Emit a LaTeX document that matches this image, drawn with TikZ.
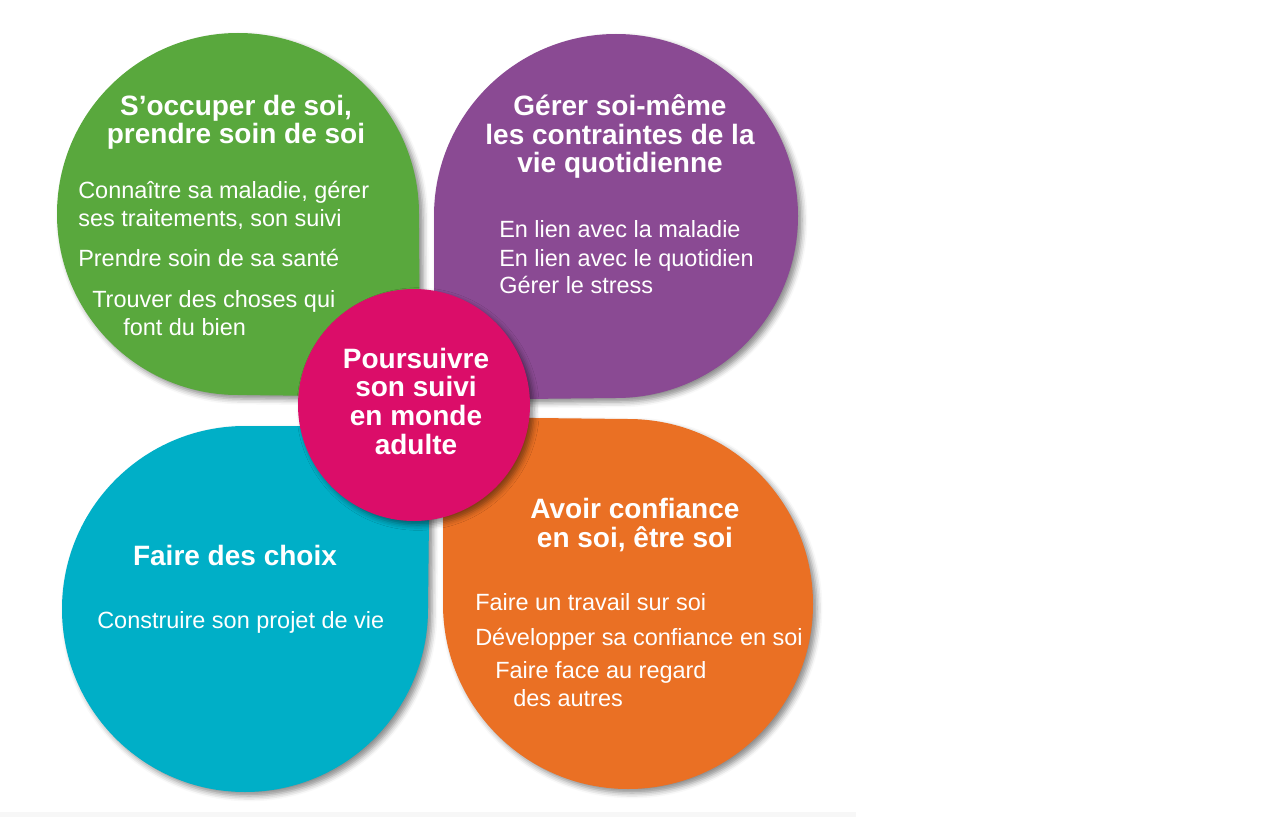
\documentclass[tikz,border=0pt]{standalone}
\usepackage{fontspec}
\setmainfont{Liberation Sans}
\usetikzlibrary{shadows.blur}

\definecolor{soingreen}{HTML}{59A83D}
\definecolor{gererpurple}{HTML}{8A4A93}
\definecolor{choixteal}{HTML}{00AFC7}
\definecolor{confiorange}{HTML}{EA7024}
\definecolor{suivipink}{HTML}{DB0D69}

\begin{document}
\begin{tikzpicture}[x=0.75pt,y=-0.75pt,
    shade/.style={blur shadow={shadow xshift=3pt,shadow yshift=-3pt,shadow blur radius=4pt,shadow opacity=45}},
    title/.style={text=white,font=\bfseries\fontsize{21}{21}\selectfont,anchor=base},
    item/.style={text=white,font=\fontsize{17.6}{21}\selectfont,anchor=base west,inner sep=0pt}]
    \useasboundingbox (0,0) rectangle (1285,817);
    \fill[gray!6] (0,812) rectangle (856,817);
    % four petals, corner towards the middle
    \fill[soingreen,shade] (419,214) arc[start angle=0,end angle=-270,radius=181] -- (420,397) -- cycle;
    \fill[gererpurple,shade] (616,398) arc[start angle=90,end angle=-180,radius=182] -- (434,400) -- cycle;
    \fill[choixteal,shade] (245,426) arc[start angle=-90,end angle=-360,radius=183] -- (430,426) -- cycle;
    \fill[confiorange,shade] (443,604) arc[start angle=180,end angle=-90,radius=185] -- (443,417) -- cycle;
    % middle
    \fill[suivipink,shade] (414,405) circle[radius=116];
    \node[text=white,font=\bfseries\fontsize{21}{21.5}\selectfont,align=center] (suivi) at (416,401)
        {Poursuivre\\son suivi\\en monde\\adulte};

    % green
    \node[title] (soin1) at (236,115) {S’occuper de soi,};
    \node[title] (soin2) at (236,143) {prendre soin de soi};
    \node[item] (soinA) at (78,198) {Connaître sa maladie, gérer};
    \node[item] (soinB) at (78,226) {ses traitements, son suivi};
    \node[item] (soinC) at (78,266) {Prendre soin de sa santé};
    \node[item] (soinD) at (92,307) {Trouver des choses qui};
    \node[item] (soinE) at (123,335) {font du bien};

    % purple
    \node[title] (gerer1) at (620,115) {Gérer soi-même};
    \node[title] (gerer2) at (620,144) {les contraintes de la};
    \node[title] (gerer3) at (620,172) {vie quotidienne};
    \node[item] (gererA) at (499,237) {En lien avec la maladie};
    \node[item] (gererB) at (499,266) {En lien avec le quotidien};
    \node[item] (gererC) at (499,293) {Gérer le stress};

    % teal
    \node[title] (choix1) at (235,565) {Faire des choix};
    \node[item] (choixA) at (97,628) {Construire son projet de vie};

    % orange
    \node[title] (confi1) at (635,518) {Avoir confiance};
    \node[title] (confi2) at (635,547) {en soi, être soi};
    \node[item] (confiA) at (475,610) {Faire un travail sur soi};
    \node[item] (confiB) at (475,645) {Développer sa confiance en soi};
    \node[item] (confiC) at (495,678) {Faire face au regard};
    \node[item] (confiD) at (513,706) {des autres};
\end{tikzpicture}
\end{document}
